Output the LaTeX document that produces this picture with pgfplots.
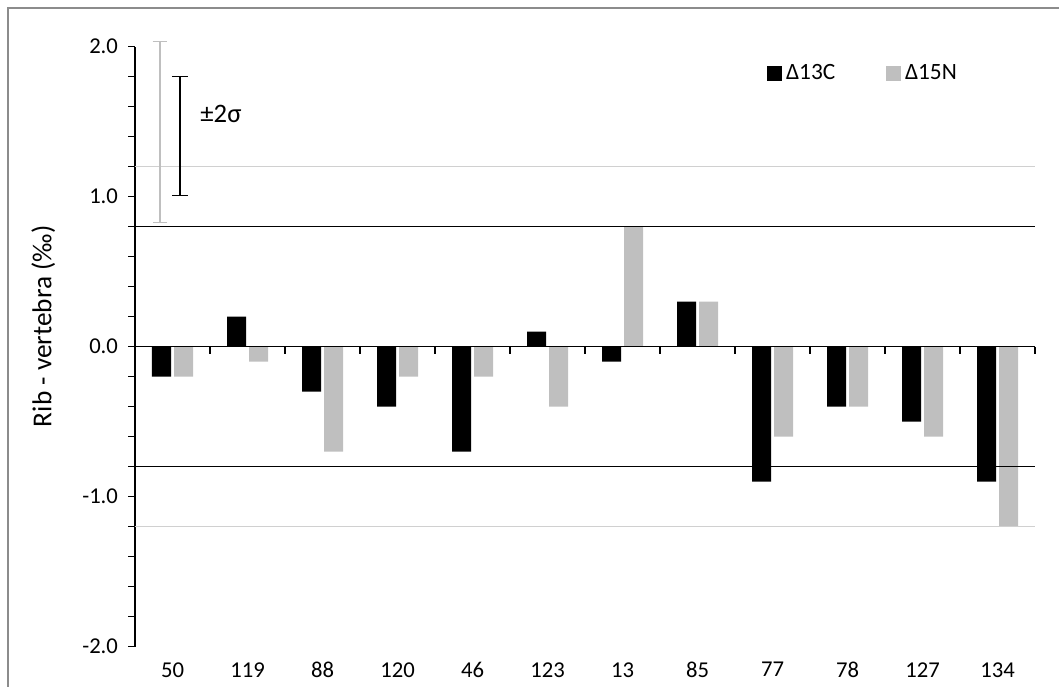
\documentclass[border=0pt]{standalone}
\usepackage{fontspec}
\setmainfont{Carlito}
\usepackage{pgfplots}
\pgfplotsset{compat=1.18}
\definecolor{barg}{HTML}{BFBFBF}
\definecolor{lineg}{HTML}{D0D0D0}
\definecolor{framec}{HTML}{8C8C8C}

\begin{document}
\begin{tikzpicture}[x=0.75pt,y=0.75pt]
% page = 1059 x 686 px, axis box lower-left at (0,0)
\path[use as bounding box] (-135,-39.3) rectangle (924,646.7);
\draw[framec, line width=1.5pt] (-127,-40) -- (-127,638.7) -- (925,638.7);
\begin{axis}[
  at={(0,0)}, anchor=south west,
  scale only axis, width=675pt, height=450pt,
  clip=false,
  xmin=-0.5, xmax=11.5, ymin=-2, ymax=2,
  axis x line=bottom, axis y line=left,
  x axis line style={draw=none},
  y axis line style={-, line width=1.1pt},
  xtick={0,...,11},
  xticklabels={50,119,88,120,46,123,13,85,77,78,127,134},
  major x tick style={draw=none},
  ytick={-2,-1,0,1,2},
  minor y tick num=4,
  tick align=outside,
  major tick length=5.25pt, minor tick length=5.25pt,
  y tick style={line width=1.1pt, black},
  /pgf/number format/fixed,
  /pgf/number format/fixed zerofill,
  /pgf/number format/precision=1,
  /pgf/number format/assume math mode=true,
  tick label style={font=\fontsize{17}{20}\selectfont},
  xticklabel style={yshift=-3pt},
  yticklabel style={xshift=-4pt},
  ylabel={Rib - vertebra (‰)},
  every axis y label/.style={at={(axis description cs:-0.102,0.534)}, rotate=90, anchor=center, font=\fontsize{20.5}{24}\selectfont},
  legend columns=2,
  legend style={at={(axis description cs:0.702,0.956)}, anchor=west, draw=none, fill=none,
    font=\fontsize{17.5}{20}\selectfont, inner sep=0pt,
    /tikz/every even column/.style={column sep=35pt},
    nodes={inner sep=3pt}},
]
\addplot[ybar, bar width=14.25pt, bar shift=-8.25pt, fill=black, draw=none,
  legend image code/.code={\fill[black] (0pt,-5.6pt) rectangle (11.25pt,5.6pt);}]
  coordinates {(0,-0.2)(1,0.2)(2,-0.3)(3,-0.4)(4,-0.7)(5,0.1)(6,-0.1)(7,0.3)(8,-0.9)(9,-0.4)(10,-0.5)(11,-0.9)};
\addlegendentry{Δ13C}
\addplot[ybar, bar width=14.25pt, bar shift=8.25pt, fill=barg, draw=none,
  legend image code/.code={\fill[barg] (0pt,-5.6pt) rectangle (11.25pt,5.6pt);}]
  coordinates {(0,-0.2)(1,-0.1)(2,-0.7)(3,-0.2)(4,-0.2)(5,-0.4)(6,0.8)(7,0.3)(8,-0.6)(9,-0.4)(10,-0.6)(11,-1.2)};
\addlegendentry{Δ15N}

% limit lines
\addplot[forget plot, sharp plot, mark=none, black, line width=1pt] coordinates {(-0.5,0.8)(11.5,0.8)};
\addplot[forget plot, sharp plot, mark=none, black, line width=1pt] coordinates {(-0.5,-0.8)(11.5,-0.8)};
\addplot[forget plot, sharp plot, mark=none, lineg, line width=1.1pt] coordinates {(-0.5,1.2)(11.5,1.2)};
\addplot[forget plot, sharp plot, mark=none, lineg, line width=1.1pt] coordinates {(-0.5,-1.2)(11.5,-1.2)};

% 2 sigma error bars
\addplot[forget plot, draw=none, mark=none,
  error bars/.cd, y dir=both, y explicit, error mark=-,
  error bar style={draw=barg, line width=1.1pt},
  error mark options={rotate=90, draw=barg, mark size=5.6pt, line width=1.1pt}]
  coordinates {(-0.167,1.43) +- (0,0.603)};
\addplot[forget plot, draw=none, mark=none,
  error bars/.cd, y dir=both, y explicit, error mark=-,
  error bar style={draw=black, line width=0.9pt},
  error mark options={rotate=90, draw=black, mark size=6pt, line width=0.9pt}]
  coordinates {(0.1,1.405) +- (0,0.398)};
\node[anchor=west, font=\fontsize{20}{24}\selectfont] at (axis cs:0.31,1.55) {±2σ};

% zero line with category ticks
\draw[black, line width=1.1pt] (axis cs:-0.5,0) -- (axis cs:11.5,0);
\pgfplotsinvokeforeach{-0.5,0.5,1.5,2.5,3.5,4.5,5.5,6.5,7.5,8.5,9.5,10.5,11.5}{
  \draw[black, line width=1.1pt] (axis cs:#1,0) -- ++(0pt,-5.25pt);
}
\end{axis}
\end{tikzpicture}
\end{document}
